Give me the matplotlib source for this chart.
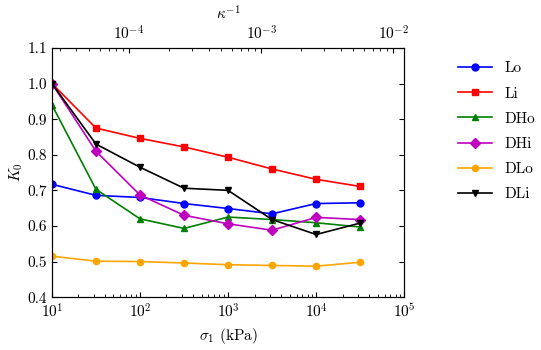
import matplotlib
matplotlib.use("Agg")
import matplotlib.pyplot as plt

plt.rcParams['font.family'] = 'serif'
plt.rcParams['font.serif'] = ['cmr10']
plt.rcParams['mathtext.fontset'] = 'cm'
plt.rcParams['axes.formatter.use_mathtext'] = True
plt.rcParams['font.size'] = 11

sigma = [10, 31.6, 100, 316, 1000, 3162, 10000, 31623]

Lo = [0.717, 0.686, 0.680, 0.663, 0.649, 0.634, 0.663, 0.665]
Li = [1.0, 0.875, 0.846, 0.822, 0.793, 0.760, 0.731, 0.711]
DHo = [0.940, 0.703, 0.620, 0.593, 0.625, 0.618, 0.609, 0.597]
DHi = [1.0, 0.810, 0.687, 0.630, 0.606, 0.588, 0.624, 0.618]
DLo = [0.515, 0.501, 0.500, 0.496, 0.491, 0.489, 0.487, 0.498]
DLi = [1.0, 0.830, 0.765, 0.706, 0.700, 0.618, 0.576, 0.608]

series = [
    ('Lo', Lo, 'b', 'o'),
    ('Li', Li, 'r', 's'),
    ('DHo', DHo, 'g', '^'),
    ('DHi', DHi, 'm', 'D'),
    ('DLo', DLo, 'orange', 'o'),
    ('DLi', DLi, 'k', 'v'),
]

fig = plt.figure(figsize=(5.41, 3.5), dpi=100)
ax = fig.add_axes([0.096, 0.151, 0.651, 0.712])

for name, vals, col, mk in series:
    ms = 4.5 if name == 'DLo' else 5
    ax.plot(sigma, vals, color=col, marker=mk, markersize=ms, lw=1.2, label=name)

ax.set_xscale('log')
ax.set_xlim(10, 1e5)
ax.set_ylim(0.4, 1.1)
ax.set_yticks([0.4, 0.5, 0.6, 0.7, 0.8, 0.9, 1.0, 1.1])
ax.set_yticklabels(['0.4', '0.5', '0.6', '0.7', '0.8', '0.9', '1.0', '1.1'])
ax.tick_params(which='both', direction='in', right=True)
ax.set_xlabel(r'$\sigma_1$ (kPa)')
ax.set_ylabel(r'$K_0$', labelpad=2)

top = ax.twiny()
top.set_xscale('log')
top.set_xlim(2.61e-5, 1.21e-2)
top.tick_params(which='both', direction='in')
top.set_xlabel(r'$\kappa^{-1}$')

ax.legend(loc='upper left', bbox_to_anchor=(1.115, 1.0), frameon=False,
          handlelength=2.2, labelspacing=0.75)

fig.savefig('out.png', dpi=100)
